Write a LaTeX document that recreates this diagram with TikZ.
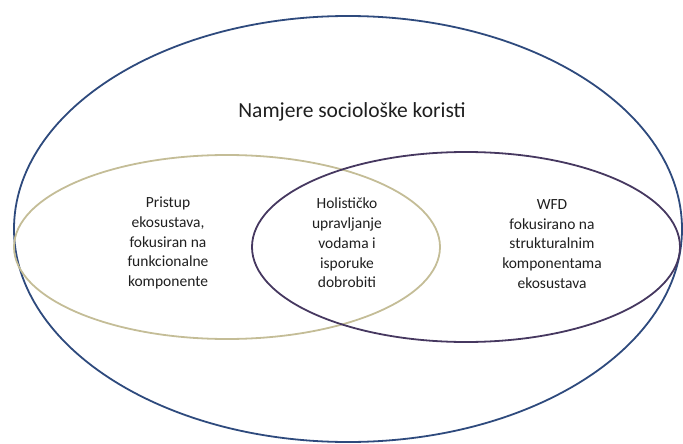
\documentclass[tikz,border=0pt]{standalone}
\usepackage{fontspec}
\setmainfont{Carlito}
\usetikzlibrary{shapes.geometric}
\definecolor{outerblue}{HTML}{2E4A7D}
\definecolor{khaki}{HTML}{C4BD97}
\definecolor{darkpurple}{HTML}{463860}
\definecolor{txt}{HTML}{1F1F1F}
\tikzset{
  ring/.style={draw, line width=1.8pt, ellipse, inner sep=0pt},
  lbl/.style={align=center, text=txt, font=\fontsize{15.5}{19.7}\selectfont},
}
\begin{document}
\begin{tikzpicture}[x=1pt,y=-1pt]
\useasboundingbox (0,0) rectangle (683,444);
\node[ring, draw=outerblue, minimum width=668pt, minimum height=426pt] (outer) at (348,229) {};
\node[ring, draw=khaki, minimum width=426pt, minimum height=184pt] (left) at (227,247) {};
\node[ring, draw=darkpurple, minimum width=428pt, minimum height=190pt] (right) at (466,247) {};
\node[text=txt, font=\fontsize{21.5}{26}\selectfont] (title) at (352,112) {Namjere sociološke koristi};
\node[lbl] (ltext) at (168,243) {Pristup\\ekosustava,\\fokusiran na\\funkcionalne\\komponente};
\node[lbl] (mtext) at (347,243) {Holističko\\upravljanje\\vodama i\\isporuke\\dobrobiti};
\node[lbl] (rtext) at (552,244) {WFD\\fokusirano na\\strukturalnim\\komponentama\\ekosustava};
\end{tikzpicture}
\end{document}
